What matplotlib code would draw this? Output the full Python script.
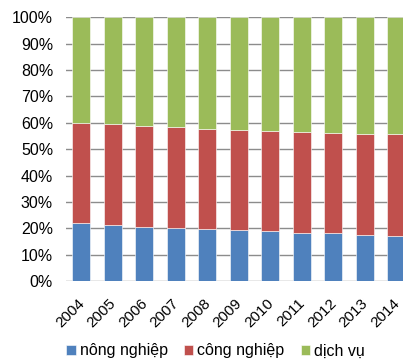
import matplotlib.pyplot as plt
import matplotlib.transforms as mtransforms
import numpy as np

plt.rcParams['font.family'] = ['Liberation Sans', 'DejaVu Sans']

years = ['2004', '2005', '2006', '2007', '2008', '2009',
         '2010', '2011', '2012', '2013', '2014']
# share of each sector, percent
nong_nghiep = [22.1, 21.3, 20.6, 20.1, 19.8, 19.2, 18.8, 18.3, 18.1, 17.4, 16.9]
cong_nghiep_top = [59.9, 59.5, 58.8, 58.3, 57.7, 57.2, 56.8, 56.4, 56.2, 55.8, 55.7]
cong_nghiep = [c - n for c, n in zip(cong_nghiep_top, nong_nghiep)]
dich_vu = [100 - c for c in cong_nghiep_top]

labels = ['nông nghiệp', 'công nghiệp', 'dịch vụ']
colors = ['#4F81BD', '#C0504D', '#9BBB59']

fig = plt.figure(figsize=(4.03, 3.62), dpi=100)
ax = fig.add_axes([65.5 / 403, 81 / 362, 346.5 / 403, 263.7 / 362])

x = np.arange(len(years))
w = 0.57
bottom = np.zeros(len(years))
for vals, lab, col in zip([nong_nghiep, cong_nghiep, dich_vu], labels, colors):
    ax.bar(x, vals, w, bottom=bottom, color=col, label=lab,
           edgecolor='white', linewidth=0.4, zorder=3)
    bottom += np.array(vals)

ax.set_xlim(-0.5, 10.5)
ax.set_ylim(0, 100)
ax.set_yticks(range(0, 101, 10))
ax.set_yticklabels([f'{v}%' for v in range(0, 101, 10)], fontsize=11.5)
ax.set_xticks(x)
ax.set_xticklabels(years, rotation=45, ha='right', rotation_mode='anchor',
                   fontsize=11)
ax.yaxis.grid(True, color='#8c8c8c', linewidth=1)
ax.set_axisbelow(True)
ax.tick_params(axis='y', length=0, pad=9)
ax.tick_params(axis='x', length=0, pad=11)
for s in ax.spines.values():
    s.set_visible(False)

# nudge the rotated year labels a little to the left
shift = mtransforms.ScaledTranslation(-4 / 100, 0, fig.dpi_scale_trans)
for t in ax.get_xticklabels():
    t.set_transform(t.get_transform() + shift)

handles, labs = ax.get_legend_handles_labels()
fig.legend(handles, labs, loc='center', bbox_to_anchor=(0.535, 11 / 362),
           ncol=3, frameon=False, fontsize=11.5, handlelength=0.6,
           handleheight=0.6, handletextpad=0.25, columnspacing=1.0)

fig.savefig('out.png', dpi=100)
